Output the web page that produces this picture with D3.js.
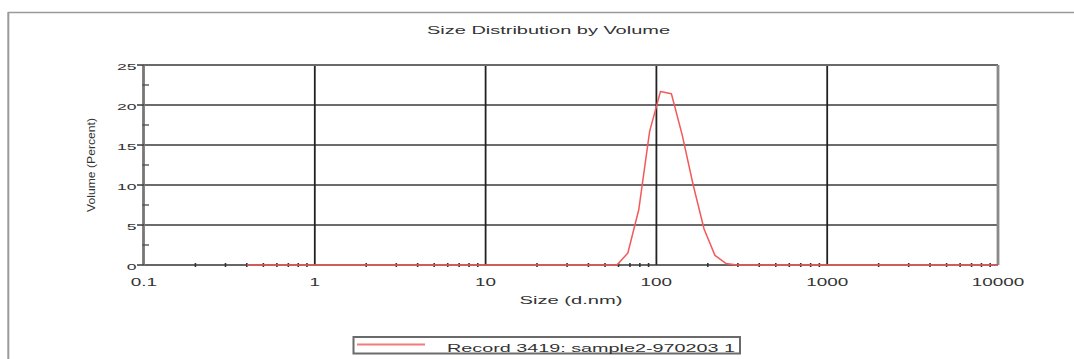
<!DOCTYPE html>
<html>
<head>
<meta charset="utf-8">
<script src="https://cdn.jsdelivr.net/npm/d3@7"></script>
<style>
  html, body { margin: 0; padding: 0; background: #fff; }
  svg { display: block; }
  text { font-family: "Liberation Sans", Arial, sans-serif; fill: #333; }
</style>
</head>
<body>
<svg id="chart" width="1074" height="359"></svg>
<script>
// ---- data ----
const chartTitle = "Size Distribution by Volume";
const xAxisTitle = "Size (d.nm)";
const yAxisTitle = "Volume (Percent)";
const seriesName = "Record 3419: sample2-970203 1";

const sizes = [0.4, 0.4632, 0.5365, 0.6213, 0.7195, 0.8332, 0.9649, 1.117, 1.294, 1.499,
  1.736, 2.01, 2.328, 2.696, 3.122, 3.615, 4.187, 4.849, 5.615, 6.503,
  7.531, 8.721, 10.1, 11.7, 13.54, 15.69, 18.17, 21.04, 24.36, 28.21,
  32.67, 37.84, 43.82, 50.75, 58.77, 68.06, 78.82, 91.28, 105.7, 122.4,
  141.8, 164.2, 190.1, 220.2, 255, 295.3, 342, 396.1, 458.7, 531.2,
  615.1, 712.4, 825, 955.4, 1106, 1281, 1484, 1718, 1990, 2305,
  2669, 3091, 3580, 4145, 4801, 5560, 6439, 7456, 8635, 10000];
const volumePercent = [0, 0, 0, 0, 0, 0, 0, 0, 0, 0,
  0, 0, 0, 0, 0, 0, 0, 0, 0, 0,
  0, 0, 0, 0, 0, 0, 0, 0, 0, 0,
  0, 0, 0, 0, 0, 1.5, 6.9, 16.7, 21.7, 21.4,
  16.2, 10.0, 4.5, 1.2, 0.2, 0, 0, 0, 0, 0,
  0, 0, 0, 0, 0, 0, 0, 0, 0, 0,
  0, 0, 0, 0, 0, 0, 0, 0, 0, 0];

const xTicks = [0.1, 1, 10, 100, 1000, 10000];
const xTickLabels = ["0.1", "1", "10", "100", "1000", "10000"];
const yTicks = [0, 5, 10, 15, 20, 25];
const yMinorTicks = [2.5, 7.5, 12.5, 17.5, 22.5];

// ---- drawing ----
const svg = d3.select("#chart");
const L = 144, R = 998, T = 65, B = 265;
const x = d3.scaleLog().domain([0.1, 10000]).range([L, R]);
const y = d3.scaleLinear().domain([0, 25]).range([B, T]);

function stretch(sel, factor) {
  sel.each(function () {
    const n = this.getComputedTextLength();
    d3.select(this).attr("textLength", n * factor).attr("lengthAdjust", "spacingAndGlyphs");
  });
}
function fit(sel, w) {
  sel.attr("textLength", w).attr("lengthAdjust", "spacingAndGlyphs");
}

// outer frame
svg.append("line").attr("x1", 8).attr("x2", 1074).attr("y1", 12.5).attr("y2", 12.5)
  .attr("stroke", "#9a9a9a").attr("stroke-width", 1.5);
svg.append("line").attr("x1", 8.3).attr("x2", 8.3).attr("y1", 12).attr("y2", 359)
  .attr("stroke", "#9a9a9a").attr("stroke-width", 2);

// title
svg.append("text").attr("x", 548.5).attr("y", 34).attr("text-anchor", "middle")
  .attr("font-size", 10.5).text(chartTitle).call(fit, 243);

// horizontal gridlines (inner)
svg.append("g").selectAll("line").data(yTicks.filter(d => d > 0 && d < 25)).join("line")
  .attr("x1", L).attr("x2", R).attr("y1", d => y(d)).attr("y2", d => y(d))
  .attr("stroke", "#3a3a3a").attr("stroke-width", 1.6);
// vertical gridlines (inner)
svg.append("g").selectAll("line").data(xTicks.filter(d => d > 0.1 && d < 10000)).join("line")
  .attr("x1", d => x(d)).attr("x2", d => x(d)).attr("y1", T).attr("y2", B)
  .attr("stroke", "#222").attr("stroke-width", 1.8);

// top border
svg.append("line").attr("x1", L).attr("x2", R).attr("y1", T).attr("y2", T)
  .attr("stroke", "#6a6a6a").attr("stroke-width", 2);
// right border
svg.append("line").attr("x1", R).attr("x2", R).attr("y1", T).attr("y2", B)
  .attr("stroke", "#8a8a8a").attr("stroke-width", 2.8);
// bottom axis
svg.append("line").attr("x1", L).attr("x2", R).attr("y1", B).attr("y2", B)
  .attr("stroke", "#333").attr("stroke-width", 1.6);
// left axis
svg.append("line").attr("x1", L - 0.5).attr("x2", L - 0.5).attr("y1", T).attr("y2", B)
  .attr("stroke", "#777").attr("stroke-width", 2.8);

// y ticks
svg.append("g").selectAll("line").data(yTicks).join("line")
  .attr("x1", L - 7).attr("x2", L).attr("y1", d => y(d)).attr("y2", d => y(d))
  .attr("stroke", "#444").attr("stroke-width", 1.6);
svg.append("g").selectAll("line").data(yMinorTicks).join("line")
  .attr("x1", L - 2).attr("x2", L + 5).attr("y1", d => y(d)).attr("y2", d => y(d))
  .attr("stroke", "#555").attr("stroke-width", 1.4);

// x minor ticks
const xMinor = [];
[0.1, 1, 10, 100, 1000].forEach(dec => { for (let k = 2; k <= 9; k++) xMinor.push(dec * k); });
svg.append("g").selectAll("line").data(xMinor).join("line")
  .attr("x1", d => x(d)).attr("x2", d => x(d)).attr("y1", B - 2).attr("y2", B + 2)
  .attr("stroke", "#333").attr("stroke-width", 1.6);

// y tick labels
svg.append("g").selectAll("text").data(yTicks).join("text")
  .attr("x", 136.5).attr("y", d => y(d) + 4.5).attr("text-anchor", "end")
  .attr("font-size", 9.5).text(d => d).call(stretch, 1.85);

// x tick labels
svg.append("g").selectAll("text").data(xTicks).join("text")
  .attr("x", d => x(d)).attr("y", 286).attr("text-anchor", "middle")
  .attr("font-size", 10.5).text((d, i) => xTickLabels[i]).call(stretch, 1.8);

// axis titles
svg.append("text").attr("x", 571).attr("y", 304).attr("text-anchor", "middle")
  .attr("font-size", 10.5).text(xAxisTitle).call(fit, 103);
svg.append("text").attr("transform", "translate(95,165) rotate(-90)")
  .attr("text-anchor", "middle").attr("font-size", 11).text(yAxisTitle).call(fit, 94);

// data line
const line = d3.line().x((d, i) => x(sizes[i])).y(d => y(d));
svg.append("path").datum(volumePercent).attr("d", line)
  .attr("fill", "none").attr("stroke", "#f25a5a").attr("stroke-width", 1.5)
  .attr("stroke-linejoin", "round");

// legend
svg.append("rect").attr("x", 353.5).attr("y", 337).attr("width", 386.5).attr("height", 16.5)
  .attr("fill", "#fff").attr("stroke", "#6a6a6a").attr("stroke-width", 2);
svg.append("line").attr("x1", 357).attr("x2", 425).attr("y1", 344.5).attr("y2", 344.5)
  .attr("stroke", "#f27a7a").attr("stroke-width", 1.8);
svg.append("text").attr("x", 447).attr("y", 351.5).attr("font-size", 10.5)
  .text(seriesName).call(fit, 288);
</script>
</body>
</html>
